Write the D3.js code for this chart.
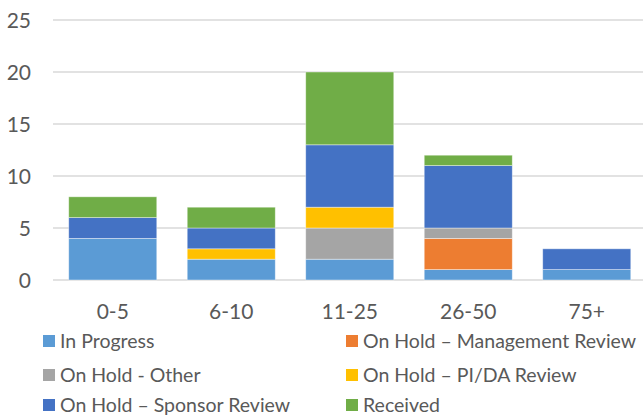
<!DOCTYPE html>
<html>
<head>
<meta charset="utf-8">
<script src="https://cdn.jsdelivr.net/npm/d3@7"></script>
<style>
  body { margin: 0; background: #fff; }
  text { font-family: Lato, "Open Sans", sans-serif; fill: #595959; }
</style>
</head>
<body>
<div id="chart"></div>
<script>
// chart data
var categories = ['0-5', '6-10', '11-25', '26-50', '75+'];
var seriesNames = ['In Progress', 'On Hold \u2013 Management Review', 'On Hold - Other',
    'On Hold \u2013 PI/DA Review', 'On Hold \u2013 Sponsor Review', 'Received'];
var inProgress = [4, 2, 2, 1, 1];
var mgmtReview = [0, 0, 0, 3, 0];
var holdOther = [0, 0, 3, 1, 0];
var piDaReview = [0, 1, 2, 0, 0];
var sponsorReview = [2, 2, 6, 6, 2];
var received = [2, 2, 7, 1, 0];
var yTicks = [0, 5, 10, 15, 20, 25];
var colors = ['#5B9BD5', '#ED7D31', '#A5A5A5', '#FFC000', '#4472C4', '#70AD47'];

var seriesValues = [inProgress, mgmtReview, holdOther, piDaReview, sponsorReview, received];

var width = 643, height = 417;

var svg = d3.select('#chart').append('svg')
    .attr('width', width)
    .attr('height', height);

var x = d3.scaleBand()
    .domain(categories)
    .range([53.5, 646])
    .paddingInner(0.257)
    .paddingOuter(0.1285);

var y = d3.scaleLinear()
    .domain([0, 25])
    .range([280, 20]);

// table for the stack
var rows = categories.map(function(c, i) {
    var r = { cat: c };
    seriesNames.forEach(function(s, j) { r[s] = seriesValues[j][i]; });
    return r;
});
var stacked = d3.stack().keys(seriesNames)(rows);

// gridlines
svg.append('g')
    .selectAll('line')
    .data(yTicks)
    .enter()
    .append('line')
    .attr('x1', 53)
    .attr('x2', 643)
    .attr('y1', function(d) { return y(d); })
    .attr('y2', function(d) { return y(d); })
    .attr('stroke', '#d9d9d9')
    .attr('stroke-width', 1.5);

// y axis labels
var yAxis = d3.axisLeft(y).tickValues(yTicks).tickSize(0).tickPadding(0);
svg.append('g')
    .attr('transform', 'translate(31,0)')
    .call(yAxis)
    .call(function(g) { g.select('.domain').remove(); })
    .selectAll('text')
    .attr('font-size', 21)
    .attr('dy', '0.36em')
    .style('font-family', 'Lato, sans-serif')
    .attr('fill', '#595959');

// bars
svg.append('g')
    .selectAll('g')
    .data(stacked)
    .enter()
    .append('g')
    .attr('fill', function(d, i) { return colors[i]; })
    .selectAll('rect')
    .data(function(d) { return d.filter(function(p) { return p[1] - p[0] > 0; }); })
    .enter()
    .append('rect')
    .attr('x', function(d) { return x(d.data.cat); })
    .attr('y', function(d) { return y(d[1]); })
    .attr('width', x.bandwidth())
    .attr('height', function(d) { return y(d[0]) - y(d[1]); })
    .attr('stroke', '#ffffff')
    .attr('stroke-opacity', 0.5)
    .attr('stroke-width', 0.8);

// x axis labels
var xAxis = d3.axisBottom(x).tickSize(0).tickPadding(0);
svg.append('g')
    .attr('transform', 'translate(0,311)')
    .call(xAxis)
    .call(function(g) { g.select('.domain').remove(); })
    .selectAll('text')
    .attr('y', 0)
    .attr('dy', '0.36em')
    .attr('font-size', 21)
    .style('font-family', 'Lato, sans-serif')
    .attr('fill', '#595959');

// legend, two columns
var legendX = [43, 346];
var legendY = [341, 375, 405];
var legend = svg.append('g')
    .selectAll('g')
    .data(seriesNames)
    .enter()
    .append('g')
    .attr('transform', function(d, i) {
        return 'translate(' + legendX[i % 2] + ',' + legendY[Math.floor(i / 2)] + ')';
    });

legend.append('rect')
    .attr('x', 0)
    .attr('y', -6)
    .attr('width', 12)
    .attr('height', 12)
    .attr('fill', function(d, i) { return colors[i]; });

legend.append('text')
    .attr('x', 17)
    .attr('dy', '0.36em')
    .attr('font-size', 19.5)
    .text(function(d) { return d; });
</script>
</body>
</html>
